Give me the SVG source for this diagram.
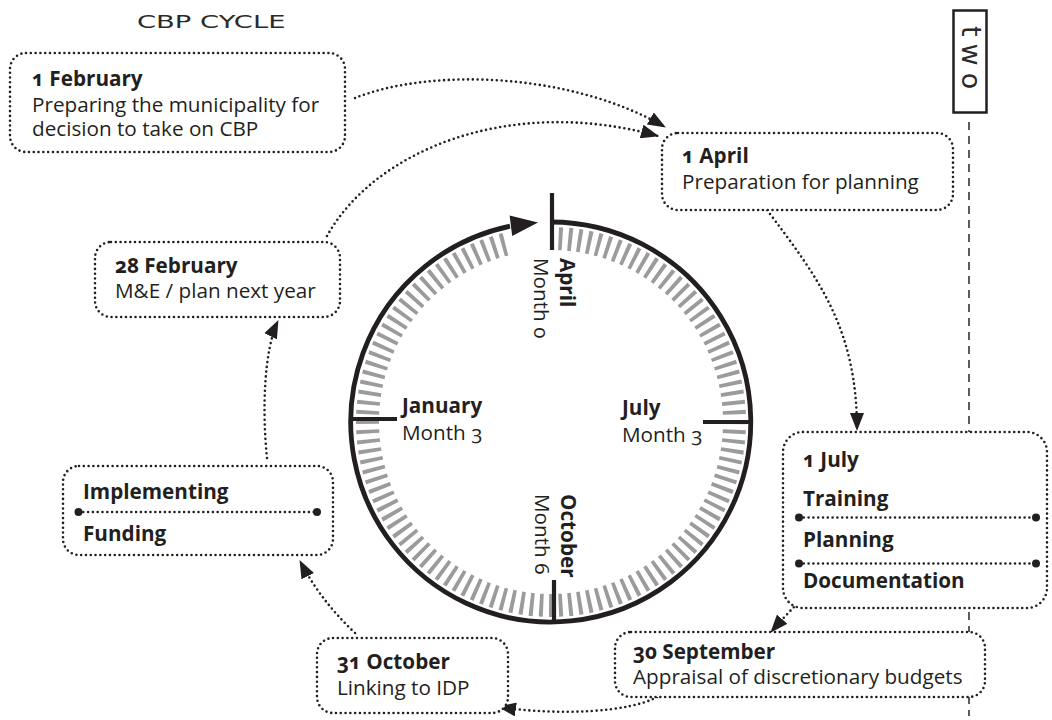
<svg xmlns="http://www.w3.org/2000/svg" width="1052" height="720" viewBox="0 0 1052 720">
  <defs>
    <style>
      .t { font-family: "Open Sans", "Noto Sans", "DejaVu Sans", sans-serif; font-size: 20.7px; fill: #231f20; font-variant-numeric: oldstyle-nums; }
      .b { font-weight: 700; }
      .box { fill: #ffffff; stroke: #231f20; stroke-width: 2.6; stroke-dasharray: 0 4.8; stroke-linecap: round; }
      .sep { fill: none; stroke: #231f20; stroke-width: 2.6; stroke-dasharray: 0 4.8; stroke-linecap: round; }
      .dot { fill: #231f20; }
      .conn { fill: none; stroke: #231f20; stroke-width: 2.6; stroke-dasharray: 0 4.8; stroke-linecap: round; marker-end: url(#head); }
      .rim { fill: none; stroke: #231f20; stroke-width: 4.8; }
      .mark { stroke: #231f20; stroke-width: 4.2; }
      .ticks { fill: none; stroke: #9b9b9b; stroke-width: 23; stroke-dasharray: 1.2 1.8; stroke-dashoffset: 0.6; }
      .wide { font-family: "DejaVu Sans", sans-serif; fill: #2a2a2a; }
    </style>
    <marker id="head" viewBox="0 0 18 14" refX="17" refY="7" markerWidth="18" markerHeight="14" markerUnits="userSpaceOnUse" orient="auto">
      <path d="M0,0 L18,7 L0,14 z" fill="#231f20"/>
    </marker>
  </defs>

  <rect width="1052" height="720" fill="#ffffff"/>

  <!-- heading and side tab -->
  <text class="wide" font-size="18" transform="translate(137,28) scale(1.52,1)">CBP CYCLE</text>
  <g id="tab">
    <rect x="953.5" y="10.5" width="33" height="102" fill="#ffffff" stroke="#231f20" stroke-width="2.5"/>
    <text class="wide" font-size="27" letter-spacing="7" transform="translate(962,26) rotate(90)">two</text>
  </g>
  <line x1="969" y1="122" x2="969" y2="716" stroke="#333333" stroke-width="1.6" stroke-dasharray="8 6"/>

  <!-- year dial -->
  <g id="dial">
    <path class="ticks" pathLength="346.5" d="M551,238.5 A183.5,183.5 0 1 1 508.16,243.57"/>
    <path class="rim" d="M551,222 A200,200 0 1 1 510,226.2"/>
    <polygon points="538,222.4 512.2,236 509.6,215.4" fill="#231f20"/>
    <line class="mark" x1="552" y1="193" x2="552" y2="250"/>
    <line class="mark" x1="349" y1="419" x2="397" y2="419"/>
    <line class="mark" x1="703" y1="422" x2="753" y2="422"/>
    <line class="mark" x1="554" y1="580" x2="554" y2="624"/>
    <text class="t b" transform="translate(560,258) rotate(90)">April</text>
    <text class="t" transform="translate(534,258) rotate(90)">Month 0</text>
    <text class="t b" transform="translate(561,494) rotate(90)">October</text>
    <text class="t" transform="translate(535,494) rotate(90)">Month 6</text>
    <text class="t b" x="402" y="413">January</text>
    <text class="t" x="402" y="440">Month 3</text>
    <text class="t b" x="622" y="415">July</text>
    <text class="t" x="622" y="442">Month 3</text>
  </g>

  <!-- connectors -->
  <g id="connectors">
    <path class="conn" d="M355,98 C430,68 570,72 665,127"/>
    <path class="conn" d="M327,236 C375,150 510,95 658,136"/>
    <path class="conn" d="M767,210 C820,280 857,330 857,430"/>
    <path class="conn" d="M797,604 Q785,616 771,632"/>
    <path class="conn" d="M657,697 C630,712 560,716 499,707"/>
    <path class="conn" d="M355,633 Q320,600 300,561"/>
    <path class="conn" d="M267,458 C262,410 264,350 278,321"/>
  </g>

  <!-- stage boxes -->
  <g id="feb1">
    <rect class="box" x="10" y="53" width="335" height="99" rx="16"/>
    <text class="t b" x="32" y="86">1 February</text>
    <text class="t" x="32" y="111.5">Preparing the municipality for</text>
    <text class="t" x="32" y="136">decision to take on CBP</text>
  </g>
  <g id="apr1">
    <rect class="box" x="662" y="133" width="291" height="77" rx="16"/>
    <text class="t b" x="682" y="163">1 April</text>
    <text class="t" x="682" y="189">Preparation for planning</text>
  </g>
  <g id="feb28">
    <rect class="box" x="95" y="242" width="245" height="75" rx="16"/>
    <text class="t b" x="115" y="272.5">28 February</text>
    <text class="t" x="115" y="298">M&amp;E / plan next year</text>
  </g>
  <g id="implementing">
    <rect class="box" x="63" y="466" width="270" height="89" rx="16"/>
    <text class="t b" x="83" y="499">Implementing</text>
    <line class="sep" x1="78.5" y1="512" x2="317" y2="512"/>
    <circle class="dot" cx="78.5" cy="512" r="4"/>
    <circle class="dot" cx="317" cy="512" r="4"/>
    <text class="t b" x="83" y="540.5">Funding</text>
  </g>
  <g id="jul1">
    <rect class="box" x="783" y="432" width="264" height="176" rx="20"/>
    <text class="t b" x="803" y="466.5">1 July</text>
    <text class="t b" x="803" y="506">Training</text>
    <line class="sep" x1="799" y1="517.5" x2="1036" y2="517.5"/>
    <circle class="dot" cx="799" cy="517.5" r="4"/>
    <circle class="dot" cx="1036" cy="517.5" r="4"/>
    <text class="t b" x="803" y="547">Planning</text>
    <line class="sep" x1="799" y1="563.5" x2="1036" y2="563.5"/>
    <circle class="dot" cx="799" cy="563.5" r="4"/>
    <circle class="dot" cx="1036" cy="563.5" r="4"/>
    <text class="t b" x="803" y="588">Documentation</text>
  </g>
  <g id="sep30">
    <rect class="box" x="615" y="632" width="370" height="65" rx="16"/>
    <text class="t b" x="633" y="659">30 September</text>
    <text class="t" x="633" y="684">Appraisal of discretionary budgets</text>
  </g>
  <g id="oct31">
    <rect class="box" x="317" y="638" width="191" height="75" rx="16"/>
    <text class="t b" x="337" y="669">31 October</text>
    <text class="t" x="337" y="695">Linking to IDP</text>
  </g>
</svg>
